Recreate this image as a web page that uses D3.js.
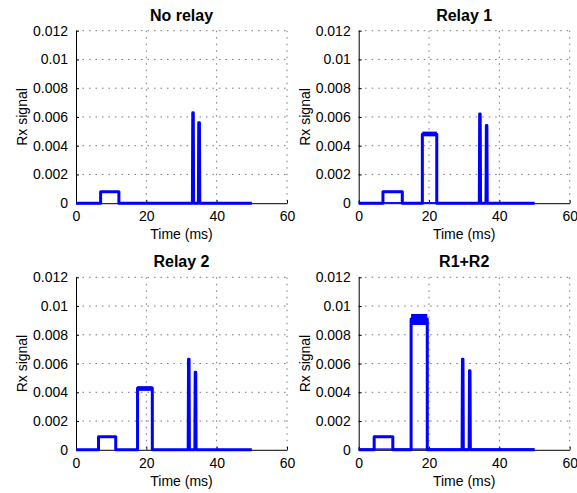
<!DOCTYPE html>
<html lang="en">
  <head>
    <meta charset="UTF-8" />
    <title>Rx signal vs time</title>
    <script src="https://d3js.org/d3.v7.min.js"></script>
    <style>
      body {
        margin: 0;
        background: #fff;
      }
      svg {
        font-family: "Liberation Sans", Arial, sans-serif;
      }
      .grid line {
        stroke: #777;
        stroke-width: 1;
        stroke-dasharray: 1.5, 5;
      }
      .sig {
        fill: none;
        stroke: #0000ff;
        stroke-width: 3;
        stroke-linejoin: round;
      }
      .band {
        fill: #0000ff;
      }
    </style>
  </head>
  <body>
    <svg id="chart" width="577" height="493"></svg>
    <script>
      const titles = ["No relay", "Relay 1", "Relay 2", "R1+R2"];
      const xTicks = [0, 20, 40, 60];
      const yTicks = [0, 0.002, 0.004, 0.006, 0.008, 0.01, 0.012];

      // signal outline, time (ms) / value
      const noRelayT = [0, 7.0, 7.0, 12.2, 12.2, 33.1, 33.2, 33.35, 33.45, 34.8, 34.9, 35.1, 35.2, 50];
      const noRelayV = [0, 0, 0.0008, 0.0008, 0, 0, 0.0063, 0.0063, 0, 0, 0.0056, 0.0056, 0, 0];

      const relay1T = [0, 6.9, 6.9, 12.4, 12.4, 18.1, 18.1, 22.2, 22.2, 34.3, 34.4, 34.55, 34.65, 36.2, 36.3, 36.45, 36.55, 50];
      const relay1V = [0, 0, 0.0008, 0.0008, 0, 0, 0.0048, 0.0048, 0, 0, 0.0062, 0.0062, 0, 0, 0.0054, 0.0054, 0, 0];

      const relay2T = [0, 6.4, 6.4, 11.3, 11.3, 17.5, 17.5, 21.7, 21.7, 31.9, 32.0, 32.15, 32.25, 33.8, 33.9, 34.05, 34.15, 50];
      const relay2V = [0, 0, 0.0009, 0.0009, 0, 0, 0.0043, 0.0043, 0, 0, 0.0063, 0.0063, 0, 0, 0.0054, 0.0054, 0, 0];

      const bothT = [0, 4.4, 4.4, 9.7, 9.7, 14.9, 14.9, 19.5, 19.5, 29.4, 29.5, 29.65, 29.75, 31.4, 31.5, 31.65, 31.75, 50];
      const bothV = [0, 0, 0.0009, 0.0009, 0, 0, 0.0091, 0.0091, 0, 0, 0.0063, 0.0063, 0, 0, 0.0055, 0.0055, 0, 0];

      // noisy plateaus: [t0, t1, low, high]
      const noRelayBands = [];
      const relay1Bands = [[0, 50, 0, 0.00008], [6.9, 12.4, 0.00072, 0.00086], [18.1, 22.2, 0.00465, 0.00498]];
      const relay2Bands = [[6.4, 11.3, 0.00085, 0.00095], [17.5, 21.7, 0.0041, 0.00442]];
      const bothBands = [[0, 50, 0, 0.0001], [4.4, 9.7, 0.00082, 0.00097], [14.9, 19.5, 0.00868, 0.00945]];

      const series = [
        { t: noRelayT, v: noRelayV, bands: noRelayBands },
        { t: relay1T, v: relay1V, bands: relay1Bands },
        { t: relay2T, v: relay2V, bands: relay2Bands },
        { t: bothT, v: bothV, bands: bothBands },
      ];

      const svg = d3.select("#chart");
      const cols = [76, 358.7];
      const rows = [30.7, 277.3];
      const width = 211;
      const height = 172.5;

      series.forEach((s, i) => {
        const left = cols[i % 2];
        const top = rows[Math.floor(i / 2)];
        const g = svg.append("g").attr("transform", `translate(${left},${top})`);

        const x = d3.scaleLinear().domain([0, 60]).range([0, width]);
        const y = d3.scaleLinear().domain([0, 0.012]).range([height, 0]);

        // dotted grid
        const grid = g.append("g").attr("class", "grid");
        grid.selectAll(".gx")
          .data(xTicks.slice(1))
          .join("line")
          .attr("x1", (d) => x(d)).attr("x2", (d) => x(d))
          .attr("y1", 0).attr("y2", height);
        grid.selectAll(".gy")
          .data(yTicks.slice(1))
          .join("line")
          .attr("class", "gy")
          .attr("x1", 0).attr("x2", width)
          .attr("y1", (d) => y(d)).attr("y2", (d) => y(d));

        // axes (ticks inside)
        const ax = g.append("g")
          .attr("transform", `translate(0,${height})`)
          .call(d3.axisBottom(x).tickValues(xTicks).tickSizeInner(-3).tickSizeOuter(0).tickPadding(8));
        const ay = g.append("g")
          .call(d3.axisLeft(y).tickValues(yTicks).tickFormat((d) => (d === 0 ? "0" : String(+d.toFixed(3)))).tickSizeInner(-3).tickSizeOuter(0).tickPadding(8));
        [ax, ay].forEach((a) => {
          a.select(".domain").attr("stroke", "#000");
          a.selectAll("line").attr("stroke", "#000");
          a.selectAll("text").attr("font-size", 14).attr("fill", "#000").attr("font-family", "Liberation Sans, Arial, sans-serif");
        });

        // noisy bands
        g.selectAll(".band")
          .data(s.bands)
          .join("rect")
          .attr("class", "band")
          .attr("x", (d) => x(d[0]))
          .attr("width", (d) => x(d[1]) - x(d[0]))
          .attr("y", (d) => y(d[3]))
          .attr("height", (d) => y(d[2]) - y(d[3]));

        const pts = s.t.map((t, k) => [t, s.v[k]]);
        g.append("path")
          .datum(pts)
          .attr("class", "sig")
          .attr("d", d3.line().x((d) => x(d[0])).y((d) => y(d[1])));

        // title and labels
        g.append("text")
          .attr("x", width / 2)
          .attr("y", -10)
          .attr("text-anchor", "middle")
          .attr("font-size", 16)
          .attr("font-weight", "bold")
          .text(titles[i]);
        g.append("text")
          .attr("x", width / 2)
          .attr("y", height + 36)
          .attr("text-anchor", "middle")
          .attr("font-size", 14)
          .text("Time (ms)");
        g.append("text")
          .attr("transform", `translate(${-49},${height / 2}) rotate(-90)`)
          .attr("text-anchor", "middle")
          .attr("font-size", 14)
          .text("Rx signal");
      });
    </script>
  </body>
</html>
